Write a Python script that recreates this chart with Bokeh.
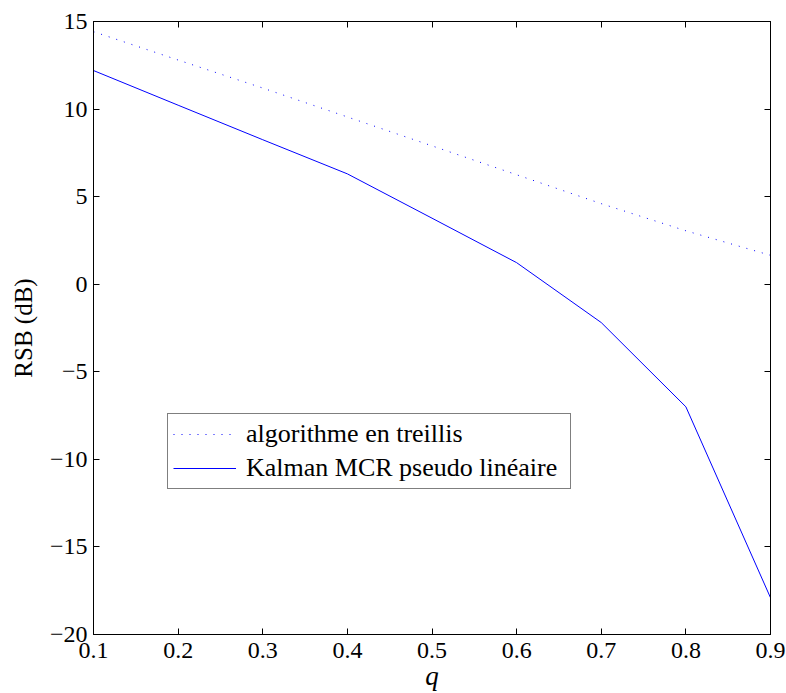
from bokeh.plotting import figure
from bokeh.models import (LinearAxis, FixedTicker, Legend, LegendItem, Range1d,
                          CustomLabelingPolicy, CustomJSTickFormatter)
from bokeh.embed import file_html
from bokeh.resources import INLINE

# data
q_values = [0.1, 0.2, 0.3, 0.4, 0.5, 0.6, 0.7, 0.8, 0.9]
rsb_treillis = [14.42, 12.8, 11.2, 9.55, 7.9, 6.25, 4.6, 3.05, 1.65]
rsb_kalman = [12.2, 10.22, 8.25, 6.3, 3.77, 1.23, -2.19, -7.0, -17.9]
series_names = ["algorithme en treillis", "Kalman MCR pseudo linéaire"]

x_ticks = [0.1, 0.2, 0.3, 0.4, 0.5, 0.6, 0.7, 0.8, 0.9]
y_ticks = [-20, -15, -10, -5, 0, 5, 10, 15]
y_tick_labels = ["\u221220", "\u221215", "\u221210", "\u22125", "0", "5", "10", "15"]
x_label = "q"
y_label = "RSB (dB)"

FONT = "'Liberation Serif', 'Times New Roman', serif"
FS = "24px"

p = figure(width=786, height=693, output_backend="svg", toolbar_location=None,
           x_range=Range1d(0.1, 0.9), y_range=Range1d(-20, 15),
           x_axis_location=None, y_axis_location=None,
           min_border_left=93, min_border_right=16, min_border_top=21, min_border_bottom=59)
p.grid.visible = False
p.outline_line_color = "black"
p.outline_line_width = 1
p.background_fill_color = "white"
p.border_fill_color = "white"

def make_axis(ticks, show_labels, overrides=None):
    ax = LinearAxis(ticker=FixedTicker(ticks=ticks))
    ax.major_tick_in = 6
    ax.major_tick_out = 0
    ax.minor_tick_in = 0
    ax.minor_tick_out = 0
    ax.axis_line_color = "black"
    ax.axis_line_width = 1
    ax.major_tick_line_color = "black"
    ax.major_label_text_font = FONT
    ax.major_label_text_font_size = FS
    ax.major_label_text_color = "black"
    ax.axis_label_text_font = FONT
    ax.axis_label_text_font_size = FS
    ax.axis_label_text_font_style = "normal"
    ax.axis_label_text_color = "black"
    if overrides:
        ax.major_label_overrides = overrides
    if not show_labels:
        ax.formatter = CustomJSTickFormatter(code="return ''")
        ax.major_label_policy = CustomLabelingPolicy(code="return new Set()")
        ax.major_label_standoff = 0
    return ax

xb = make_axis(x_ticks, True)
xb.major_label_standoff = 8
xb.axis_label = x_label
xb.axis_label_text_font_style = "italic"
xb.axis_label_text_font_size = "27px"
xb.axis_label_standoff = 0
p.add_layout(xb, "below")

yl = make_axis(y_ticks, True, dict(zip(y_ticks, y_tick_labels)))
yl.major_label_standoff = 6
yl.axis_label = y_label
yl.axis_label_text_font_size = "25px"
yl.axis_label_standoff = 10
p.add_layout(yl, "left")

xt = make_axis(x_ticks, False)
p.add_layout(xt, "above")
yr = make_axis(y_ticks, False)
p.add_layout(yr, "right")

r1 = p.line(q_values, rsb_treillis, line_color="blue", line_width=1, line_dash="1 7")
r2 = p.line(q_values, rsb_kalman, line_color="blue", line_width=1)

legend = Legend(items=[LegendItem(label=series_names[0], renderers=[r1]),
                       LegendItem(label=series_names[1], renderers=[r2])],
                location=(74, 145))
legend.label_text_font = FONT
legend.label_text_font_size = "26px"
legend.label_text_color = "black"
legend.border_line_color = "black"
legend.border_line_width = 1
legend.background_fill_color = "white"
legend.background_fill_alpha = 1
legend.padding = 5
legend.spacing = 4
legend.margin = 0
legend.glyph_width = 63
legend.glyph_height = 30
legend.label_height = 30
legend.label_standoff = 10
legend.label_width = 319
p.add_layout(legend, "center")

open("out.html", "w").write(file_html(p, INLINE))
